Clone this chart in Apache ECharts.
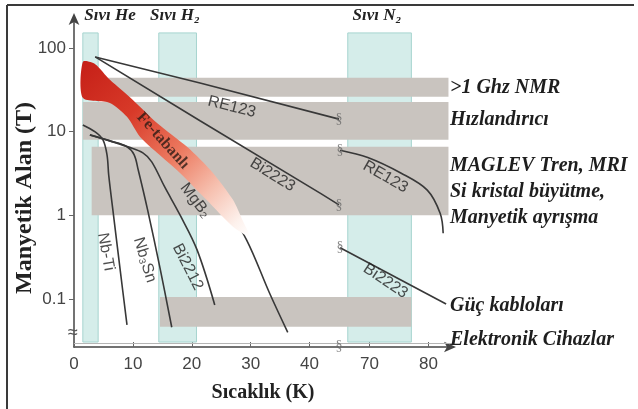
<!DOCTYPE html>
<html><head><meta charset="utf-8">
<script src="https://cdn.jsdelivr.net/npm/echarts@6/dist/echarts.min.js"></script>
<style>html,body{margin:0;padding:0;background:#fff}#c{width:638px;height:409px}</style>
</head><body><div id="c"></div>
<script>
// ---------------- data ----------------
const tempTicks = [0, 10, 20, 30, 40, 70, 80];
const fieldTicks = [0.1, 1, 10, 100];

// critical-field curves: [temperature K, field T]
const re123High  = [[3.6, 78], [21.4, 38], [45, 14.1]];
const re123Low   = [[65, 6.0], [69.7, 4.9], [75.3, 3.2], [79.8, 2.0], [82, 1.05], [82.5, 0.61]];
const bi2223High = [[3.6, 78], [21.4, 13.5], [42, 1.8], [45, 1.33]];
const bi2223Low  = [[65, 0.41], [83, 0.087]];
const nbTi   = [[1.5, 12], [3.6, 9.9], [4.9, 8.0], [5.6, 5.3], [5.9, 3.0], [6.6, 1.16], [7.8, 0.235], [9.0, 0.049]];
const nb3Sn  = [[2.7, 9.1], [6.1, 7.75], [9.0, 6.6], [10.2, 5.3], [10.9, 3.5], [12.5, 1.16], [14.6, 0.235], [16.6, 0.046]];
const bi2212 = [[2.7, 9.14], [6.1, 7.75], [9.15, 6.57], [11.7, 5.57], [13.2, 4.35], [15.4, 2.18], [18.0, 1.01], [20.9, 0.386], [23.9, 0.085]];
const mgB2   = [[16, 6], [21.4, 3.5], [25.6, 1.33], [29.3, 0.51], [33.2, 0.118], [36.3, 0.040]];

// Fe-based region: upper and lower boundary
const feUpper = [[1.5, 68], [3.6, 64], [6.1, 41.5], [10, 23.9], [14.1, 12.7], [19.2, 6.57], [23.6, 3.21], [27, 1.53], [28.6, 0.88], [29.8, 0.56]];
const feLower = [[1.5, 25.3], [6.1, 22], [9, 15], [11.2, 8.65], [14.1, 5.57], [18, 3.21], [22.5, 1.53], [27, 0.73]];

// cryogen bands (temperature ranges)
const cryoNames = ['Sıvı He', 'Sıvı H₂', 'Sıvı N₂'];
const cryoFrom  = [1.5, 14.4, 66.3];
const cryoTo    = [4.1, 20.8, 77.1];
const cryoField = [0.0306, 151];

// application bands (field ranges)
const appFrom = [1.5, 1.5, 3.0, 14.6];
const appTo   = [83.4, 83.4, 83.4, 77.1];
const appLow  = [26, 8, 1.0, 0.0465];
const appHigh = [43.9, 22.5, 6.57, 0.106];
const appNames = ['>1 Ghz NMR', 'Hızlandırıcı', 'MAGLEV Tren, MRI', 'Si kristal büyütme,', 'Manyetik ayrışma', 'Güç kabloları', 'Elektronik Cihazlar'];

// curve labels
const curveLabelText = ['RE123', 'Bi2223', 'RE123', 'Bi2223', 'Nb-Ti', 'Nb₃Sn', 'Bi2212', 'MgB₂'];
const curveLabelAt   = [[26.8, 19.7], [33.7, 3.04], [72.7, 2.88], [72.7, 0.164], [5.4, 0.366], [12.0, 0.293], [19.3, 0.242], [20.6, 1.5]];
const feLabel = 'Fe-tabanlı';
const feLabelAt = [15.1, 7.75];

// axis-break marks on the curves
const breakMarks = [[45, 14.1], [65, 6.0], [45, 1.33], [65, 0.41], [45, 0.0275]];

const xTitle = 'Sıcaklık (K)';
const yTitle = 'Manyetik Alan (T)';

// ---------------- layout / style ----------------
const curveLabelRot = [-14, -32, -30, -34, -80, -73, -63, -52];
const appLabelY = [88, 120, 166, 192, 218, 306, 340];
const cryoLabelX = [110, 175, 377];
const LINE = '#383838';
const SERIF = '"Liberation Serif","Times New Roman",serif';
const SANS = '"Liberation Sans",Arial,sans-serif';

const chart = echarts.init(document.getElementById('c'));

function rectRender(fill, stroke) {
  return function (params, api) {
    const p0 = api.coord([api.value(0), api.value(3)]);
    const p1 = api.coord([api.value(1), api.value(2)]);
    return {
      type: 'rect',
      shape: { x: p0[0], y: p0[1], width: p1[0] - p0[0], height: p1[1] - p0[1] },
      style: { fill: fill, stroke: stroke || null, lineWidth: stroke ? 1 : 0 }
    };
  };
}

function lineSeries(data, smooth) {
  return {
    type: 'line', data: data, showSymbol: false, smooth: smooth ? 0.35 : false,
    lineStyle: { color: LINE, width: 1.6 }, z: 3, silent: true, clip: false
  };
}

const cryoData = cryoFrom.map((f, i) => [f, cryoTo[i], cryoField[0], cryoField[1]]);
const appData = appFrom.map((f, i) => [f, appTo[i], appLow[i], appHigh[i]]);

const graphic = [
  { type: 'line', shape: { x1: 7, y1: 5, x2: 634, y2: 5 }, style: { stroke: '#3a3a3a', lineWidth: 2 }, z: 100 },
  { type: 'line', shape: { x1: 7, y1: 5, x2: 7, y2: 409 }, style: { stroke: '#3a3a3a', lineWidth: 2 }, z: 100 },
  { type: 'text', x: 73, y: 333, style: { text: '≈', fill: '#555', align: 'center', verticalAlign: 'middle', font: '18px ' + SANS }, z: 100 },
  { type: 'text', x: 25, y: 198, rotation: Math.PI / 2, style: { text: yTitle, fill: '#222', align: 'center', verticalAlign: 'middle', font: 'bold 24px ' + SERIF }, z: 100 }
];
cryoNames.forEach((t, i) => graphic.push({
  type: 'text', x: cryoLabelX[i], y: 16,
  style: { text: t, fill: '#222', align: 'center', verticalAlign: 'middle', font: 'italic bold 17px ' + SERIF }, z: 100
}));
appNames.forEach((t, i) => graphic.push({
  type: 'text', x: 450, y: appLabelY[i],
  style: { text: t, fill: '#1e1e1e', align: 'left', verticalAlign: 'middle', font: 'italic bold 20px ' + SERIF }, z: 100
}));

const labelData = curveLabelText.map((t, i) => ({
  value: curveLabelAt[i],
  label: { show: true, formatter: t, rotate: curveLabelRot[i] }
}));
labelData.push({
  value: feLabelAt,
  label: { show: true, formatter: feLabel, rotate: -48, fontFamily: SERIF, fontWeight: 'bold', fontSize: 16, color: '#2a1a14' }
});

const option = {
  animation: false,
  backgroundColor: '#fff',
  grid: { left: 74, right: 186, top: 17, bottom: 62, containLabel: false, outerBoundsMode: 'none' },
  xAxis: {
    type: 'value', min: 0, max: 84, interval: 10,
    breaks: [{ start: 45, end: 65, gap: '0.3%' }],
    breakArea: { show: false },
    name: xTitle, nameLocation: 'middle', nameGap: 36,
    nameTextStyle: { fontFamily: SERIF, fontWeight: 'bold', fontSize: 20, color: '#222' },
    axisLine: { show: true, lineStyle: { color: '#444', width: 1.5 }, symbol: ['none', 'arrow'], symbolSize: [8, 12], symbolOffset: [0, 4] },
    axisTick: { show: true, inside: true, length: 5, lineStyle: { color: '#666' }, customValues: tempTicks },
    axisLabel: {
      margin: 9, fontSize: 17, color: '#444', fontFamily: SANS, customValues: tempTicks, hideOverlap: false,
      formatter: function (v) { return String(Math.round(v)); }
    },
    splitLine: { show: false }
  },
  yAxis: {
    type: 'log', logBase: 10, min: 0.0267, max: 234,
    axisLine: { show: true, lineStyle: { color: '#444', width: 1.5 }, symbol: ['none', 'arrow'], symbolSize: [8, 12], symbolOffset: [0, 4] },
    axisTick: { show: true, inside: false, length: 5, lineStyle: { color: '#666' } },
    axisLabel: {
      margin: 8, fontSize: 17, color: '#444', fontFamily: SANS, showMinLabel: false, showMaxLabel: false,
      formatter: function (v) {
        for (const t of fieldTicks) if (Math.abs(Math.log10(v) - Math.log10(t)) < 1e-6) return String(t);
        return '';
      }
    },
    splitLine: { show: false }
  },
  graphic: graphic,
  series: [
    {
      type: 'custom', name: 'cryo', data: cryoData, encode: { x: [0, 1], y: [2, 3] }, renderItem: rectRender('#d5edea', '#a6d4cf'), z: 1, silent: true, clip: false,
      markLine: {
        silent: true, symbol: 'none', label: { show: false },
        lineStyle: { color: '#b5b5b5', width: 1, type: 'solid' },
        data: [{ yAxis: cryoField[0] }]
      }
    },
    { type: 'custom', name: 'apps', data: appData, encode: { x: [0, 1], y: [2, 3] }, renderItem: rectRender('#c9c4bf'), z: 2, silent: true, clip: false },
    lineSeries(re123High, false),
    lineSeries(re123Low, true),
    lineSeries(bi2223High, false),
    lineSeries(bi2223Low, false),
    lineSeries(nbTi, true),
    lineSeries(nb3Sn, true),
    lineSeries(bi2212, true),
    lineSeries(mgB2, true),
    {
      type: 'custom', name: 'fe', data: [feUpper[0]], z: 4, silent: true, clip: false,
      renderItem: function (params, api) {
        const pts = feUpper.concat(feLower.slice().reverse()).map(p => api.coord(p));
        return {
          type: 'polygon', shape: { points: pts, smooth: 0.25 },
          style: {
            fill: new echarts.graphic.LinearGradient(0, 0, 1, 1, [
              { offset: 0, color: '#c51f17' }, { offset: 0.3, color: '#d83a29' },
              { offset: 0.55, color: '#ec7a60' }, { offset: 0.75, color: '#f6bfae' },
              { offset: 0.92, color: '#fdf1ec' }, { offset: 1, color: '#ffffff' }
            ])
          }
        };
      }
    },
    {
      type: 'scatter', name: 'labels', data: labelData, symbolSize: 0, z: 6, silent: true,
      label: { show: true, position: 'inside', fontFamily: SANS, fontSize: 16, color: '#222' }
    },
    {
      type: 'scatter', name: 'breaks', data: breakMarks, symbolSize: 0, z: 7, silent: true, clip: false,
      label: { show: true, position: 'inside', formatter: '§', fontFamily: SERIF, fontSize: 14, color: '#666' }
    }
  ]
};
chart.setOption(option);
</script>
</body></html>
